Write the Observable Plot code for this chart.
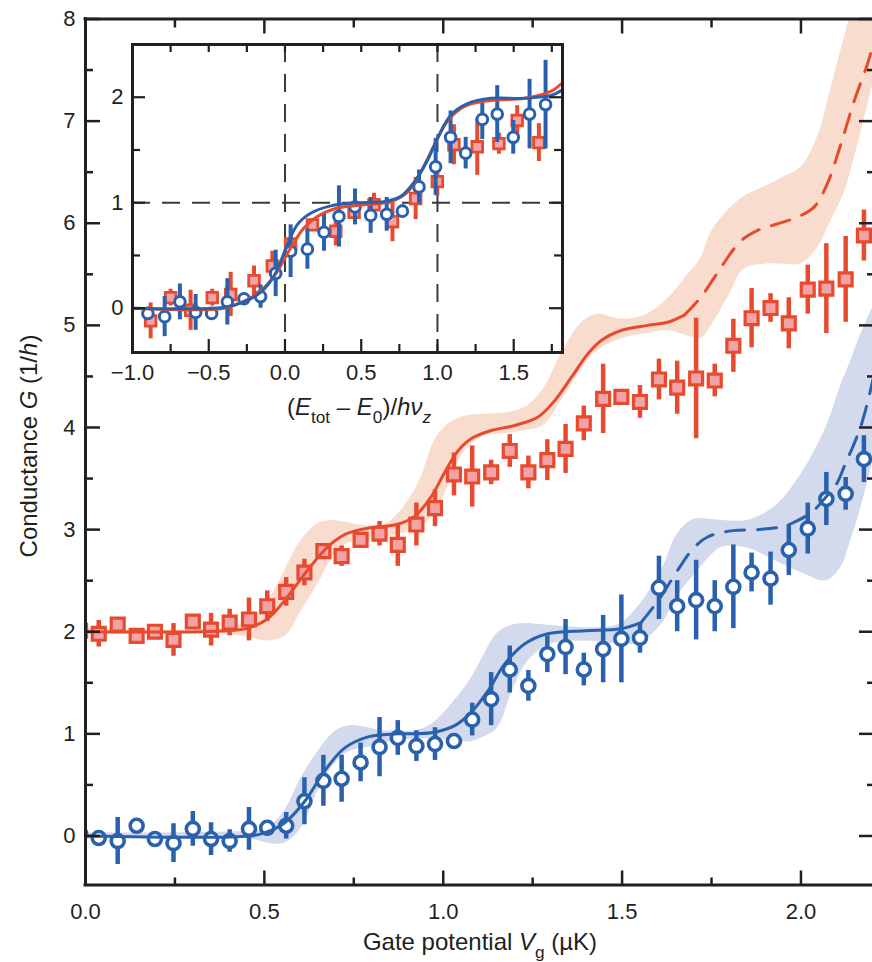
<!DOCTYPE html>
<html><head><meta charset="utf-8">
<script src="https://cdn.jsdelivr.net/npm/d3@7"></script>
<script src="https://cdn.jsdelivr.net/npm/@observablehq/plot@0.6"></script>
<style>
html,body{margin:0;padding:0;background:#fff;}
#wrap{position:relative;width:872px;height:962px;overflow:hidden;}
</style></head><body><div id="wrap"></div>
<script>
// ---------- main chart data ----------
const vg = [-0.015, 0.037, 0.090, 0.143, 0.194, 0.246, 0.300, 0.351, 0.403, 0.457, 0.508, 0.561, 0.612, 0.665, 0.716, 0.769, 0.822, 0.873, 0.925, 0.977, 1.030, 1.081, 1.134, 1.186, 1.238, 1.291, 1.342, 1.393, 1.447, 1.498, 1.550, 1.603, 1.654, 1.707, 1.759, 1.811, 1.862, 1.915, 1.966, 2.019, 2.071, 2.125, 2.176];
const redG = [2.01, 1.98, 2.07, 1.96, 2.00, 1.92, 2.10, 2.02, 2.09, 2.12, 2.25, 2.39, 2.58, 2.79, 2.74, 2.90, 2.96, 2.85, 3.05, 3.21, 3.54, 3.52, 3.56, 3.77, 3.56, 3.68, 3.79, 4.04, 4.28, 4.30, 4.25, 4.47, 4.39, 4.48, 4.46, 4.80, 5.07, 5.17, 5.02, 5.35, 5.36, 5.45, 5.88];
const redErr = [0.05, 0.13, 0.05, 0.04, 0.07, 0.16, 0.05, 0.16, 0.13, 0.21, 0.15, 0.14, 0.13, 0.06, 0.10, 0.06, 0.12, 0.21, 0.21, 0.18, 0.21, 0.30, 0.12, 0.16, 0.16, 0.20, 0.24, 0.17, 0.34, 0.06, 0.16, 0.20, 0.26, 0.59, 0.16, 0.26, 0.29, 0.14, 0.25, 0.24, 0.44, 0.42, 0.25];
const blueG = [0.02, -0.02, -0.05, 0.10, -0.03, -0.07, 0.07, -0.03, -0.05, 0.07, 0.08, 0.10, 0.34, 0.54, 0.56, 0.72, 0.87, 0.96, 0.88, 0.90, 0.93, 1.14, 1.34, 1.63, 1.47, 1.78, 1.85, 1.63, 1.83, 1.93, 1.94, 2.43, 2.25, 2.31, 2.25, 2.44, 2.58, 2.52, 2.80, 3.01, 3.30, 3.35, 3.69];
const blueErr = [0.05, 0.05, 0.23, 0.06, 0.05, 0.19, 0.17, 0.16, 0.11, 0.21, 0.05, 0.13, 0.23, 0.25, 0.23, 0.19, 0.29, 0.17, 0.15, 0.16, 0.07, 0.16, 0.26, 0.23, 0.15, 0.18, 0.27, 0.16, 0.33, 0.43, 0.15, 0.31, 0.25, 0.39, 0.25, 0.41, 0.19, 0.26, 0.25, 0.25, 0.26, 0.16, 0.23];

// theory curves
const redSolidX = [0, 0.40, 0.46, 0.51, 0.56, 0.62, 0.68, 0.73, 0.80, 0.87, 0.92, 0.966, 1.004, 1.041, 1.078, 1.134, 1.20, 1.264, 1.311, 1.358, 1.404, 1.441, 1.497, 1.572, 1.627, 1.674];
const redSolidY = [2.0, 2.01, 2.04, 2.13, 2.32, 2.60, 2.84, 2.96, 3.02, 3.05, 3.13, 3.32, 3.56, 3.77, 3.89, 3.97, 4.02, 4.10, 4.26, 4.49, 4.72, 4.85, 4.95, 5.00, 5.03, 5.10];
const redDashX = [1.674, 1.721, 1.777, 1.83, 1.879, 1.93, 1.99, 2.037, 2.074, 2.112, 2.149, 2.186, 2.21];
const redDashY = [5.10, 5.28, 5.57, 5.82, 5.93, 5.99, 6.06, 6.16, 6.39, 6.78, 7.20, 7.56, 7.85];
const blueSolidX = [0, 0.46, 0.50, 0.557, 0.613, 0.669, 0.724, 0.79, 0.873, 0.966, 1.032, 1.078, 1.125, 1.171, 1.227, 1.292, 1.395, 1.497, 1.553];
const blueSolidY = [0, 0.0, 0.03, 0.13, 0.34, 0.64, 0.86, 0.97, 1.00, 1.01, 1.08, 1.21, 1.42, 1.68, 1.88, 1.98, 2.01, 2.03, 2.09];
const blueDashX = [1.553, 1.60, 1.655, 1.70, 1.74, 1.81, 1.88, 1.95, 1.98, 2.03, 2.07, 2.10, 2.12, 2.168, 2.21];
const blueDashY = [2.09, 2.30, 2.60, 2.82, 2.93, 2.99, 3.00, 3.03, 3.07, 3.17, 3.32, 3.45, 3.61, 4.02, 4.60];

// uncertainty bands
const redBandX = [0, 0.40, 0.46, 0.51, 0.56, 0.60, 0.65, 0.69, 0.73, 0.78, 0.83, 0.87, 0.93, 0.98, 1.02, 1.06, 1.11, 1.17, 1.23, 1.28, 1.33, 1.385, 1.43, 1.50, 1.57, 1.63, 1.68, 1.72, 1.75, 1.80, 1.84, 1.90, 1.95, 2.00, 2.05, 2.08, 2.12, 2.16, 2.21];
const redBandHi = [2.03, 2.04, 2.12, 2.30, 2.62, 2.88, 3.06, 3.09, 3.07, 3.04, 3.04, 3.14, 3.45, 3.90, 4.05, 4.11, 4.13, 4.14, 4.20, 4.38, 4.72, 5.02, 5.11, 5.06, 5.11, 5.27, 5.48, 5.66, 5.92, 6.14, 6.26, 6.36, 6.45, 6.55, 6.88, 7.27, 7.80, 8.30, 8.80];
const redBandLo = [1.97, 1.97, 1.94, 1.91, 1.96, 2.18, 2.47, 2.72, 2.86, 2.89, 2.92, 2.95, 3.01, 3.18, 3.48, 3.77, 3.91, 3.94, 3.97, 4.02, 4.26, 4.56, 4.75, 4.87, 4.92, 4.95, 4.90, 4.87, 5.00, 5.30, 5.55, 5.60, 5.60, 5.60, 5.78, 6.00, 6.29, 6.78, 7.50];
const blueBandX = [0, 0.46, 0.51, 0.557, 0.60, 0.65, 0.70, 0.74, 0.79, 0.83, 0.87, 0.92, 0.97, 1.04, 1.07, 1.10, 1.15, 1.19, 1.23, 1.27, 1.30, 1.40, 1.49, 1.55, 1.61, 1.655, 1.70, 1.75, 1.78, 1.85, 1.925, 2.00, 2.07, 2.11, 2.14, 2.16, 2.21];
const blueBandHi = [0.03, 0.05, 0.08, 0.25, 0.55, 0.83, 1.03, 1.08, 1.06, 1.03, 1.03, 1.03, 1.10, 1.36, 1.50, 1.68, 1.98, 2.06, 2.08, 2.07, 2.06, 2.04, 2.07, 2.27, 2.60, 2.96, 3.10, 3.10, 3.09, 3.09, 3.22, 3.54, 4.00, 4.40, 4.66, 4.85, 5.25];
const blueBandLo = [-0.03, -0.03, -0.07, -0.07, 0.06, 0.44, 0.72, 0.83, 0.87, 0.91, 0.93, 0.95, 0.95, 0.93, 0.92, 0.95, 1.05, 1.39, 1.68, 1.82, 1.88, 1.91, 1.88, 1.89, 2.07, 2.35, 2.55, 2.75, 2.83, 2.82, 2.70, 2.58, 2.50, 2.62, 2.90, 3.12, 3.78];

// axes
const xDomain = [0, 2.2];
const yDomain = [-0.48, 8];
const xMajor = [0, 0.5, 1, 1.5, 2];
const xMinor = [0.25, 0.75, 1.25, 1.75];
const xTickText = ["0.0", "0.5", "1.0", "1.5", "2.0"];
const yMajor = [0, 1, 2, 3, 4, 5, 6, 7, 8];
const yMinor = [0.5, 1.5, 2.5, 3.5, 4.5, 5.5, 6.5, 7.5];

// ---------- inset data ----------
const inBlueX = [-0.899, -0.789, -0.689, -0.586, -0.481, -0.378, -0.269, -0.160, -0.061, 0.037, 0.147, 0.256, 0.354, 0.459, 0.562, 0.667, 0.770, 0.879, 0.988, 1.086, 1.185, 1.294, 1.392, 1.497, 1.604, 1.709];
const inBlueY = [-0.05, -0.08, 0.06, -0.04, -0.05, 0.06, 0.09, 0.11, 0.33, 0.54, 0.56, 0.72, 0.87, 0.96, 0.88, 0.89, 0.92, 1.15, 1.34, 1.62, 1.47, 1.79, 1.84, 1.62, 1.84, 1.93];
const inBlueErr = [0.06, 0.19, 0.17, 0.17, 0.05, 0.22, 0.05, 0.11, 0.22, 0.25, 0.19, 0.18, 0.29, 0.17, 0.17, 0.16, 0.06, 0.16, 0.27, 0.25, 0.15, 0.19, 0.27, 0.16, 0.33, 0.42];
const inRedX = [-0.881, -0.750, -0.619, -0.477, -0.356, -0.203, -0.083, 0.037, 0.180, 0.333, 0.453, 0.584, 0.705, 0.857, 0.999, 1.108, 1.261, 1.403, 1.523, 1.665];
const inRedY = [-0.12, 0.10, -0.02, 0.10, 0.13, 0.26, 0.40, 0.61, 0.79, 0.73, 0.91, 0.98, 0.82, 1.04, 1.20, 1.55, 1.53, 1.56, 1.78, 1.57];
const inRedErr = [0.17, 0.08, 0.19, 0.08, 0.21, 0.14, 0.14, 0.06, 0.06, 0.14, 0.06, 0.11, 0.19, 0.20, 0.14, 0.19, 0.27, 0.10, 0.14, 0.18];
const inBlueCurveX = [-1.0, -0.40, -0.27, -0.16, -0.07, 0.015, 0.08, 0.168, 0.30, 0.475, 0.65, 0.76, 0.85, 0.934, 1.0, 1.087, 1.197, 1.35, 1.57, 1.75, 1.82];
const inBlueCurveY = [0.0, 0.01, 0.06, 0.15, 0.31, 0.60, 0.79, 0.90, 0.97, 1.00, 1.01, 1.06, 1.20, 1.40, 1.61, 1.83, 1.94, 1.99, 1.99, 2.02, 2.07];
const inRedCurveX = [-1.0, -0.40, -0.25, -0.14, -0.05, 0.037, 0.124, 0.212, 0.343, 0.518, 0.693, 0.803, 0.89, 0.977, 1.064, 1.174, 1.35, 1.57, 1.75, 1.82];
const inRedCurveY = [0.0, 0.0, 0.08, 0.19, 0.35, 0.57, 0.76, 0.87, 0.95, 0.98, 1.01, 1.10, 1.29, 1.54, 1.77, 1.91, 1.97, 1.99, 2.06, 2.14];
const inXDomain = [-1, 1.82];
const inYDomain = [-0.42, 2.5];
const inXMajor = [-1, -0.5, 0, 0.5, 1, 1.5];
const inXMinor = [-0.75, -0.25, 0.25, 0.75, 1.25, 1.75];
const inXTickText = ["\u22121.0", "\u22120.5", "0.0", "0.5", "1.0", "1.5"];
const inYMajor = [0, 1, 2];
const inYMinor = [0.5, 1.5];
const inGuideX = [0, 1];
const inGuideY = [1];

// ---------- styles ----------
const FONT = "'Liberation Sans', Arial, Helvetica, sans-serif";
const INK = "#231f20";
const RED = "#e84a2f", RED_FILL = "#f2a3a6", RED_BAND = "#f8ddcf";
const BLUE = "#2a61ad", BLUE_BAND = "#d4daee";
const TICK_FS = 22, TITLE_FS = 24;

const zip2 = (xs, ys) => xs.map((x, i) => ({x, y: ys[i]}));
const pts = (xs, ys, es) => xs.map((x, i) => ({x, y: ys[i], lo: ys[i] - es[i], hi: ys[i] + es[i]}));
const band = (xs, lo, hi) => xs.map((x, i) => ({x, lo: lo[i], hi: hi[i]}));

const W = 872, H = 962, ML = 85, MR = 0, MT = 18.5, MB = 77.5;
const FW = W - ML - MR, FH = H - MT - MB;

const redPts = pts(vg, redG, redErr), bluePts = pts(vg, blueG, blueErr);

const main = Plot.plot({
  width: W, height: H, marginLeft: ML, marginRight: MR, marginTop: MT, marginBottom: MB,
  style: {fontFamily: FONT, background: "white"},
  x: {domain: xDomain, axis: null},
  y: {domain: yDomain, axis: null},
  marks: [
    Plot.areaY(band(redBandX, redBandLo, redBandHi), {x: "x", y1: "lo", y2: "hi", fill: RED_BAND, curve: "catmull-rom", clip: true}),
    Plot.areaY(band(blueBandX, blueBandLo, blueBandHi), {x: "x", y1: "lo", y2: "hi", fill: BLUE_BAND, curve: "catmull-rom", clip: true}),
    Plot.ruleX(redPts, {x: "x", y1: "lo", y2: "hi", stroke: RED, strokeWidth: 4.5, clip: true}),
    Plot.dot(redPts, {x: "x", y: "y", symbol: "square", r: 7.3, fill: RED_FILL, stroke: RED, strokeWidth: 3.2, clip: true}),
    Plot.ruleX(bluePts, {x: "x", y1: "lo", y2: "hi", stroke: BLUE, strokeWidth: 4.5, clip: true}),
    Plot.dot(bluePts, {x: "x", y: "y", r: 6.5, fill: "white", stroke: BLUE, strokeWidth: 3.6, clip: true}),
    Plot.line(zip2(redSolidX, redSolidY), {x: "x", y: "y", stroke: RED, strokeWidth: 3, curve: "catmull-rom", clip: true}),
    Plot.line(zip2(redDashX, redDashY), {x: "x", y: "y", stroke: RED, strokeWidth: 3, strokeDasharray: "19,13", curve: "catmull-rom", clip: true}),
    Plot.line(zip2(blueSolidX, blueSolidY), {x: "x", y: "y", stroke: BLUE, strokeWidth: 3, curve: "catmull-rom", clip: true}),
    Plot.line(zip2(blueDashX, blueDashY), {x: "x", y: "y", stroke: BLUE, strokeWidth: 3, strokeDasharray: "19,13", curve: "catmull-rom", clip: true}),
    // ticks (inward)
    Plot.ruleY(yMajor, {y: d => d, insetRight: FW - 15, stroke: INK, strokeWidth: 2.5}),
    Plot.ruleY(yMinor, {y: d => d, insetRight: FW - 8, stroke: INK, strokeWidth: 2.5}),
    Plot.ruleY(yMajor, {y: d => d, insetLeft: FW - 13, stroke: INK, strokeWidth: 2.5}),
    Plot.ruleY(yMinor, {y: d => d, insetLeft: FW - 5, stroke: INK, strokeWidth: 2.5}),
    Plot.ruleX(xMajor, {x: d => d, insetTop: FH - 14, stroke: INK, strokeWidth: 2.5}),
    Plot.ruleX(xMinor, {x: d => d, insetTop: FH - 7, stroke: INK, strokeWidth: 2.5}),
    Plot.ruleX(xMajor, {x: d => d, insetBottom: FH - 15, stroke: INK, strokeWidth: 2.5}),
    Plot.ruleX(xMinor, {x: d => d, insetBottom: FH - 9, stroke: INK, strokeWidth: 2.5}),
    // frame lines
    Plot.ruleX([xDomain[0]], {stroke: INK, strokeWidth: 3, strokeLinecap: "square"}),
    Plot.ruleY([yDomain[0]], {stroke: INK, strokeWidth: 3, strokeLinecap: "square"}),
    Plot.ruleY([yDomain[1]], {stroke: INK, strokeWidth: 3, strokeLinecap: "square"}),
    // tick labels
    Plot.text(yMajor, {y: d => d, text: d => String(d), frameAnchor: "left", dx: -10, textAnchor: "end", lineAnchor: "middle", fontSize: TICK_FS, fill: INK}),
    Plot.text(xMajor, {x: d => d, text: (d, i) => xTickText[i], frameAnchor: "bottom", dy: 27, lineAnchor: "middle", fontSize: TICK_FS, fill: INK})
  ]
});
main.style.position = "absolute"; main.style.left = "0px"; main.style.top = "0px";
document.getElementById("wrap").appendChild(main);

// ---------- inset ----------
const IML = 45, IMR = 6, IMT = 6, IMB = 80;
const IFW = 430, IFH = 308;
const inBluePts = pts(inBlueX, inBlueY, inBlueErr), inRedPts = pts(inRedX, inRedY, inRedErr);
const inset = Plot.plot({
  width: IML + IFW + IMR, height: IMT + IFH + IMB,
  marginLeft: IML, marginRight: IMR, marginTop: IMT, marginBottom: IMB,
  style: {fontFamily: FONT, background: "transparent"},
  x: {domain: inXDomain, axis: null},
  y: {domain: inYDomain, axis: null},
  marks: [
    Plot.frame({fill: "white", stroke: "none"}),
    Plot.ruleX(inGuideX, {x: d => d, stroke: "#3b3b3b", strokeWidth: 2, strokeDasharray: "18,12"}),
    Plot.ruleY(inGuideY, {y: d => d, stroke: "#3b3b3b", strokeWidth: 2, strokeDasharray: "18,12"}),
    Plot.ruleX(inRedPts, {x: "x", y1: "lo", y2: "hi", stroke: RED, strokeWidth: 4, clip: true}),
    Plot.dot(inRedPts, {x: "x", y: "y", symbol: "square", r: 6, fill: RED_FILL, stroke: RED, strokeWidth: 2.8, clip: true}),
    Plot.ruleX(inBluePts, {x: "x", y1: "lo", y2: "hi", stroke: BLUE, strokeWidth: 4, clip: true}),
    Plot.dot(inBluePts, {x: "x", y: "y", r: 5.3, fill: "white", stroke: BLUE, strokeWidth: 3, clip: true}),
    Plot.line(zip2(inRedCurveX, inRedCurveY), {x: "x", y: "y", stroke: RED, strokeWidth: 3, curve: "catmull-rom", clip: true}),
    Plot.line(zip2(inBlueCurveX, inBlueCurveY), {x: "x", y: "y", stroke: BLUE, strokeWidth: 3, curve: "catmull-rom", clip: true}),
    Plot.ruleY(inYMajor, {y: d => d, insetRight: IFW - 13, stroke: INK, strokeWidth: 2.2}),
    Plot.ruleY(inYMinor, {y: d => d, insetRight: IFW - 8, stroke: INK, strokeWidth: 2.2}),
    Plot.ruleY(inYMajor, {y: d => d, insetLeft: IFW - 13, stroke: INK, strokeWidth: 2.2}),
    Plot.ruleY(inYMinor, {y: d => d, insetLeft: IFW - 8, stroke: INK, strokeWidth: 2.2}),
    Plot.ruleX(inXMajor, {x: d => d, insetTop: IFH - 13, stroke: INK, strokeWidth: 2.2}),
    Plot.ruleX(inXMinor, {x: d => d, insetTop: IFH - 8, stroke: INK, strokeWidth: 2.2}),
    Plot.ruleX(inXMajor, {x: d => d, insetBottom: IFH - 8, stroke: INK, strokeWidth: 2.2}),
    Plot.ruleX(inXMinor, {x: d => d, insetBottom: IFH - 8, stroke: INK, strokeWidth: 2.2}),
    Plot.frame({stroke: INK, strokeWidth: 3}),
    Plot.text(inYMajor, {y: d => d, text: d => String(d), frameAnchor: "left", dx: -9, textAnchor: "end", lineAnchor: "middle", fontSize: TICK_FS, fill: INK}),
    Plot.text(inXMajor, {x: d => d, text: (d, i) => inXTickText[i], frameAnchor: "bottom", dy: 20, lineAnchor: "middle", fontSize: TICK_FS, fill: INK})
  ]
});
inset.style.position = "absolute"; inset.style.left = (132 - IML) + "px"; inset.style.top = (44 - IMT) + "px";
document.getElementById("wrap").appendChild(inset);

// ---------- rich axis titles ----------
function richLabel(svg, x, y, rotate, size, parts) {
  const t = d3.select(svg).append("text")
    .attr("transform", `translate(${x},${y}) rotate(${rotate})`)
    .attr("text-anchor", "middle")
    .attr("font-size", size).attr("font-family", FONT).attr("fill", INK);
  let shift = 0;
  for (const p of parts) {
    const ts = t.append("tspan").text(p.t);
    if (p.i) ts.attr("font-style", "italic");
    const target = p.sub ? size * 0.32 : 0;
    if (target !== shift) { ts.attr("dy", target - shift); shift = target; }
    if (p.sub) ts.attr("font-size", size * 0.72);
  }
}
richLabel(main, 480, 950, 0, TITLE_FS, [{t: "Gate potential "}, {t: "V", i: true}, {t: "g", sub: true}, {t: " (\u00b5K)"}]);
richLabel(main, 37, 446, -90, TITLE_FS, [{t: "Conductance "}, {t: "G", i: true}, {t: " (1/"}, {t: "h", i: true}, {t: ")"}]);
richLabel(inset, 359 - (132 - IML), 415 - (44 - IMT), 0, TITLE_FS, [{t: "("}, {t: "E", i: true}, {t: "tot", sub: true}, {t: " \u2013 "}, {t: "E", i: true}, {t: "0", sub: true}, {t: ")/"}, {t: "h\u03bd", i: true}, {t: "z", sub: true, i: true}]);
</script></body></html>
